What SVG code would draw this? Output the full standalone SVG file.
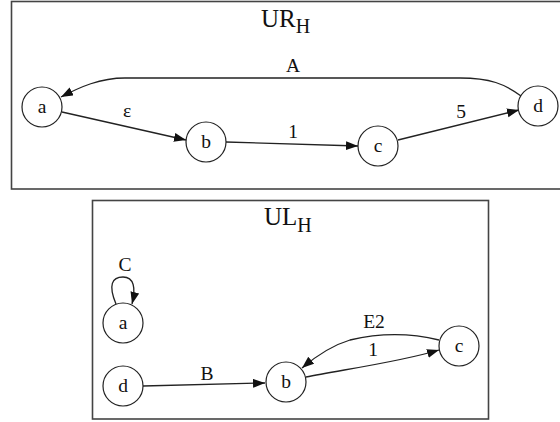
<svg xmlns="http://www.w3.org/2000/svg" width="560" height="422" viewBox="0 0 560 422">
  <style>
    .cluster { fill: #ffffff; stroke: #444444; stroke-width: 1.6; }
    .node circle { fill: #ffffff; stroke: #222222; stroke-width: 1.2; }
    .node text, .lbl { font-family: "Liberation Serif", "Times New Roman", serif; font-size: 19.5px; fill: #111111; text-anchor: middle; }
    .title { font-family: "Liberation Serif", "Times New Roman", serif; font-size: 25px; fill: #111111; }
    .edge { fill: none; stroke: #222222; stroke-width: 1.3; marker-end: url(#arrow); }
  </style>
  <defs>
    <marker id="arrow" markerUnits="userSpaceOnUse" markerWidth="13" markerHeight="10" refX="12" refY="4.5" orient="auto">
      <path d="M0,0 L12,4.5 L0,9 z" fill="#111111"/>
    </marker>
  </defs>
  <rect width="560" height="422" fill="#ffffff"/>

  <!-- upper cluster -->
  <g id="cluster_UR">
    <rect class="cluster" x="11.5" y="1.5" width="560" height="187.5"/>
    <text class="title" x="261" y="27">UR<tspan dy="6" font-size="20">H</tspan></text>
  </g>

  <!-- lower cluster -->
  <g id="cluster_UL">
    <rect class="cluster" x="92.5" y="200.5" width="396" height="218.5"/>
    <text class="title" x="264" y="225">UL<tspan dy="7" font-size="20">H</tspan></text>
  </g>

  <!-- connectors -->
  <g id="edges">
    <path class="edge" d="M62,112 L186,140"/>
    <path class="edge" d="M226,142 L358,146"/>
    <path class="edge" d="M398,140 L519,110"/>
    <path class="edge" d="M521,96 C505,84 490,78 460,78 L125,78 C100,78 80,87 61,97"/>
    <text class="lbl" x="293" y="72">A</text>
    <text class="lbl" x="127" y="117">ε</text>
    <text class="lbl" x="293" y="138">1</text>
    <text class="lbl" x="461" y="118">5</text>

    <path class="edge" d="M116,304 C108,285 112,277 123,277 C134,277 136,288 132,304"/>
    <path class="edge" d="M143,386 L265,383"/>
    <path class="edge" d="M306,377 C340,370 400,362 439,350"/>
    <path class="edge" d="M439,340 C410,333 380,333 350,340 C330,346 315,357 302,368"/>
    <text class="lbl" x="125" y="271">C</text>
    <text class="lbl" x="207" y="380">B</text>
    <text class="lbl" x="374" y="328">E2</text>
    <text class="lbl" x="373" y="356">1</text>
  </g>

  <!-- upper nodes -->
  <g id="UR_a" class="node"><circle cx="42" cy="107" r="20"/><text x="42" y="113">a</text></g>
  <g id="UR_b" class="node"><circle cx="206" cy="142" r="20"/><text x="206" y="148">b</text></g>
  <g id="UR_c" class="node"><circle cx="378" cy="146" r="20"/><text x="378" y="152">c</text></g>
  <g id="UR_d" class="node"><circle cx="538" cy="106" r="20"/><text x="538" y="112">d</text></g>

  <!-- lower nodes -->
  <g id="UL_a" class="node"><circle cx="123" cy="323" r="20"/><text x="123" y="329">a</text></g>
  <g id="UL_d" class="node"><circle cx="123" cy="386" r="20"/><text x="123" y="392">d</text></g>
  <g id="UL_b" class="node"><circle cx="286" cy="382" r="20"/><text x="286" y="388">b</text></g>
  <g id="UL_c" class="node"><circle cx="459" cy="346" r="20"/><text x="459" y="352">c</text></g>
</svg>
